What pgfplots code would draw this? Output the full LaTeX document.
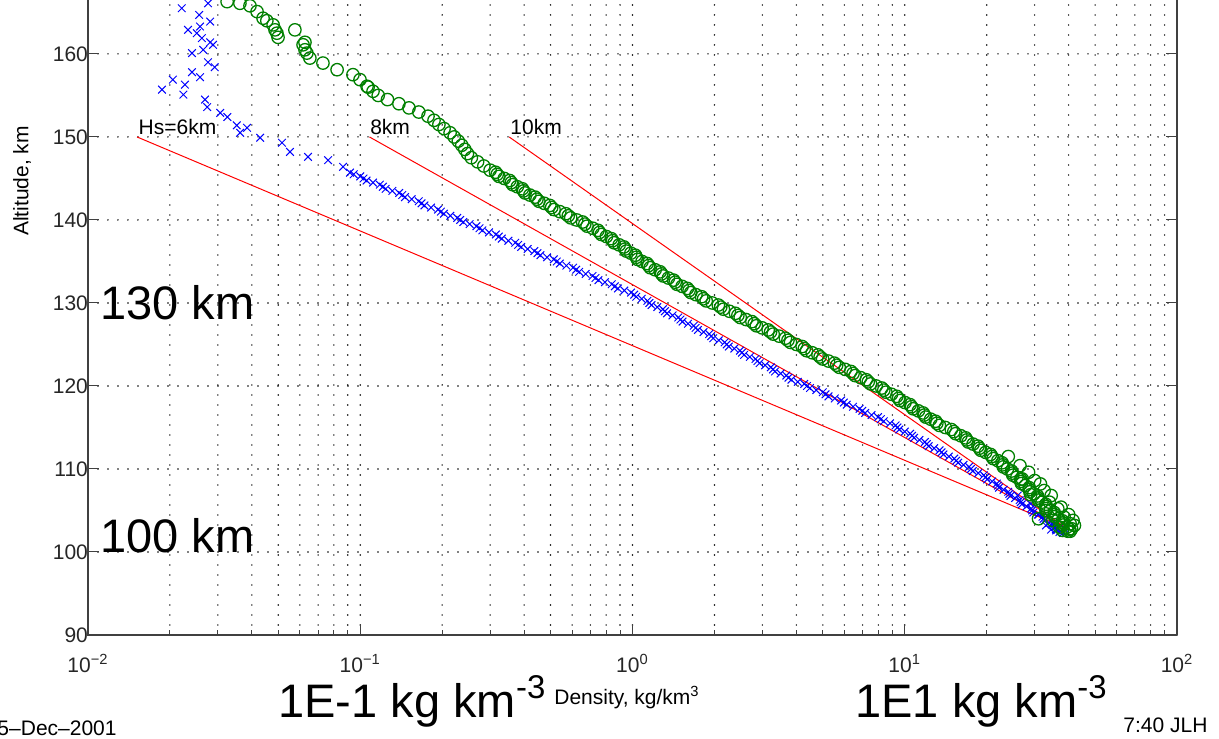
\documentclass[border=0pt]{standalone}
\usepackage{fontspec}
\setmainfont{Liberation Sans}
\usepackage{pgfplots}
\pgfplotsset{compat=1.18}

\definecolor{mgreen}{rgb}{0,0.5,0}

\begin{document}
\begin{tikzpicture}
\begin{axis}[
    at={(0,0)}, anchor=south west,
    scale only axis, width=544.5pt, height=317.5pt,
    xmode=log, xmin=0.01, xmax=100, ymin=90, ymax=166.5,
    axis x line*=bottom, axis y line*=box,
    axis line style={-, black!75, line width=0.6pt},
    xtick={0.01,0.1,1,10,100},
    xticklabels={10\textsuperscript{−2},10\textsuperscript{−1},10\textsuperscript{0},10\textsuperscript{1},10\textsuperscript{2}},
    minor xtick={0.02,0.03,0.04,0.05,0.06,0.07,0.08,0.09,0.2,0.3,0.4,0.5,0.6,0.7,0.8,0.9,2,3,4,5,6,7,8,9,20,30,40,50,60,70,80,90},
    ytick={90,100,...,160},
    ytick pos=both,
    tick align=inside,
    major tick length=5.5pt, minor tick length=2.5pt,
    tick style={black!75, line width=0.5pt},
    /pgf/number format/assume math mode=true,
    tick label style={font=\fontsize{10.5}{12}\selectfont, black!85},
    xticklabel style={yshift=-6pt},
    yticklabel style={xshift=3.5pt},
    xmajorgrids, xminorgrids, ymajorgrids,
    grid style={black, line width=0.8pt, line cap=round, dash pattern=on 0pt off 5pt},
    minor grid style={black, line width=0.8pt, line cap=round, dash pattern=on 0pt off 5pt},
    clip=false,
]
% blue: lower profile
\addplot[only marks, mark=x, mark size=2.7pt, blue, mark options={line width=0.5pt}] coordinates {
(0.0221,165.5)(0.0276,166.1)(0.0256,164.7)(0.0281,163.9)(0.0258,163.3)(0.0233,162.9)(0.0251,162.5)(0.0262,161.9)(0.0281,161.4)(0.0288,161.1)(0.0265,160.5)(0.0241,160.1)(0.0276,159.0)(0.0292,158.4)(0.0241,157.8)(0.0258,157.2)(0.0205,156.9)(0.0187,155.7)(0.0227,156.3)(0.0224,155.1)(0.0269,154.5)(0.0274,153.6)(0.0306,152.9)(0.0325,152.4)(0.0352,151.4)(0.0384,151.1)(0.0362,150.5)(0.0429,149.9)(0.0516,149.3)(0.0552,148.2)(0.0643,147.6)(0.0762,147.2)(0.0865,146.4)(0.0917,145.7)
(0.0946,145.5)(0.1028,145.0)(0.1114,144.5)(0.1211,144.0)(0.1312,143.5)(0.1426,143.0)(0.1545,142.5)(0.1679,142.0)(0.1820,141.5)(0.1977,141.0)
(0.2143,140.5)(0.2328,140.0)(0.2523,139.5)(0.2742,139.0)(0.2972,138.5)(0.3228,138.0)(0.3499,137.5)(0.3802,137.0)(0.4121,136.5)(0.4477,136.0)
(0.4853,135.5)(0.5272,135.0)(0.5715,134.5)(0.6209,134.0)(0.6730,133.5)(0.7311,133.0)(0.7925,132.5)(0.8610,132.0)(0.9333,131.5)(1.014,131.0)
(1.081,130.5)(1.153,130.0)(1.233,129.5)(1.315,129.0)(1.403,128.5)(1.500,128.0)(1.600,127.5)(1.706,127.0)(1.824,126.5)(1.945,126.0)
(2.075,125.5)(2.218,125.0)(2.366,124.5)(2.523,124.0)(2.698,123.5)(2.877,123.0)(3.069,122.5)(3.281,122.0)(3.499,121.5)(3.741,121.0)
(4.046,120.5)(4.375,120.0)(4.732,119.5)(5.117,119.0)(5.534,118.5)(5.970,118.0)(6.457,117.5)(6.982,117.0)(7.551,116.5)(8.166,116.0)
(8.831,115.5)(9.397,115.0)(10.00,114.5)(10.64,114.0)(11.32,113.5)(12.05,113.0)(12.82,112.5)(13.65,112.0)(14.52,111.5)(15.45,111.0)
(16.44,110.5)(17.50,110.0)(18.62,109.5)(19.82,109.0)(20.94,108.5)(21.98,108.0)(23.07,107.5)(24.21,107.0)(25.41,106.5)(26.67,106.0)
(27.99,105.5)(29.38,105.0)(30.83,104.5)(32.36,104.0)(33.88,103.5)(35.56,103.0)(37.33,102.5)(38.1,102.3)
(0.100,145.25)(0.1055,144.75)(0.118,144.25)(0.124,143.75)(0.139,143.25)(0.146,142.75)(0.164,142.25)(0.172,141.75)(0.193,141.25)(0.203,140.75)
(0.227,140.25)(0.239,139.75)(0.267,139.25)(0.281,138.75)(0.315,138.25)(0.331,137.75)(0.371,137.25)(0.390,136.75)(0.436,136.25)(0.459,135.75)
(0.514,135.25)(0.541,134.75)(0.605,134.25)(0.637,133.75)(0.713,133.25)(0.750,132.75)(0.839,132.25)(0.884,131.75)(0.988,131.25)(1.032,130.75)
(1.134,130.25)(1.175,129.75)(1.293,129.25)(1.339,128.75)(1.473,128.25)(1.527,127.75)(1.678,127.25)(1.739,126.75)(1.913,126.25)(1.980,125.75)
(2.179,125.25)(2.258,124.75)(2.481,124.25)(2.571,123.75)(2.829,123.25)(2.929,122.75)(3.223,122.25)(3.339,121.75)(3.674,121.25)(3.835,120.75)
(4.274,120.25)(4.485,119.75)(4.998,119.25)(5.246,118.75)(5.838,118.25)(6.120,117.75)(6.820,117.25)(7.157,116.75)(7.976,116.25)(8.371,115.75)
(9.251,115.25)(9.553,114.75)(10.47,114.25)(10.82,113.75)(11.86,113.25)(12.25,112.75)(13.43,112.25)(13.87,111.75)(15.21,111.25)(15.71,110.75)
(17.22,110.25)(17.79,109.75)(19.51,109.25)(20.08,108.75)(21.78,108.25)(22.19,107.75)(23.99,107.25)(24.44,106.75)(26.43,106.25)(26.92,105.75)
(29.12,105.25)(29.65,104.75)(32.07,104.25)(32.62,103.75)(35.24,103.25)(35.90,102.75)
(33,103.2)(36,102.6)(31,104.5)(34.5,102.7)(29,105.8)(26,106.8)(38.5,102.9)(37,102.4)(35,103.5)
};
% green: upper profile
\addplot[only marks, mark=o, mark size=3.1pt, mgreen, mark options={line width=0.65pt}] coordinates {
(0.03243,166.3)(0.03614,166.1)(0.03936,165.8)(0.04178,165.1)(0.04395,164.3)(0.04539,164.0)(0.04786,163.5)(0.04864,162.9)(0.04943,162.5)(0.0499,162.0)(0.05754,162.9)(0.06166,161.1)(0.06266,161.4)(0.06368,160.1)(0.06531,159.5)(0.06266,160.5)(0.07295,158.9)(0.08222,158.1)(0.0940,157.5)(0.0998,156.9)(0.1059,156.1)
(0.1069,156.0)(0.1114,155.5)(0.1164,155.0)(0.1259,154.5)(0.1387,154.0)(0.1510,153.5)(0.1641,153.0)(0.1774,152.5)(0.1866,152.0)(0.1945,151.5)
(0.2032,151.0)(0.2138,150.5)(0.2213,150.0)(0.2291,149.5)(0.2360,149.0)(0.2421,148.5)(0.2477,148.0)(0.2559,147.5)(0.2698,147.0)(0.2844,146.5)
(0.2999,146.0)(0.3184,145.5)(0.3381,145.0)(0.3589,144.5)(0.3776,144.0)(0.3981,143.5)(0.4198,143.0)(0.4457,142.5)(0.4742,142.0)(0.5047,141.5)
(0.5408,141.0)(0.5808,140.5)(0.6237,140.0)(0.6683,139.5)(0.7145,139.0)(0.7568,138.5)(0.8017,138.0)(0.8453,137.5)(0.8933,137.0)(0.9397,136.5)
(0.9863,136.0)(1.033,135.5)(1.084,135.0)(1.146,134.5)(1.211,134.0)(1.279,133.5)(1.355,133.0)(1.435,132.5)(1.521,132.0)(1.614,131.5)
(1.710,131.0)(1.824,130.5)(1.963,130.0)(2.109,129.5)(2.270,129.0)(2.438,128.5)(2.612,128.0)(2.799,127.5)(2.992,127.0)(3.214,126.5)
(3.459,126.0)(3.724,125.5)(4.000,125.0)(4.276,124.5)(4.571,124.0)(4.887,123.5)(5.248,123.0)(5.623,122.5)(6.039,122.0)(6.457,121.5)
(6.887,121.0)(7.345,120.5)(7.852,120.0)(8.375,119.5)(8.933,119.0)(9.484,118.5)(10.02,118.0)(10.59,117.5)(11.22,117.0)(11.80,116.5)
(12.45,116.0)(13.12,115.5)(14.09,115.0)(15.14,114.5)(16.07,114.0)(16.90,113.5)(17.82,113.0)(18.79,112.5)(19.82,112.0)(20.89,111.5)
(21.98,111.0)(22.91,110.5)(23.82,110.0)(24.83,109.5)(25.82,109.0)(26.73,108.5)(27.73,108.0)(28.71,107.5)(29.79,107.0)(30.83,106.5)
(31.92,106.0)(33.04,105.5)(34.28,105.0)(35.48,104.5)(36.73,104.0)(38.11,103.5)(39.45,103.0)(39.72,102.5)
(0.314,145.75)(0.323,145.25)(0.354,144.75)(0.363,144.25)(0.394,143.75)(0.403,143.25)(0.439,142.75)(0.453,142.25)(0.497,141.75)(0.515,141.25)
(0.569,140.75)(0.593,140.25)(0.656,139.75)(0.681,139.25)(0.747,138.75)(0.768,138.25)(0.836,137.75)(0.856,137.25)(0.930,136.75)(0.949,136.25)
(1.025,135.75)(1.043,135.25)(1.132,134.75)(1.161,134.25)(1.264,133.75)(1.297,133.25)(1.416,132.75)(1.456,132.25)(1.591,131.75)(1.637,131.25)
(1.794,130.75)(1.865,130.25)(2.067,129.75)(2.157,129.25)(2.389,128.75)(2.487,128.25)(2.746,127.75)(2.852,127.25)(3.150,126.75)(3.286,126.25)
(3.645,125.75)(3.804,125.25)(4.200,124.75)(4.357,124.25)(4.800,123.75)(4.991,123.25)(5.517,122.75)(5.744,122.25)(6.342,121.75)(6.572,121.25)
(7.223,120.75)(7.485,120.25)(8.235,119.75)(8.524,119.25)(9.347,118.75)(9.606,118.25)(10.46,117.75)(10.74,117.25)(11.68,116.75)(11.94,116.25)
(12.98,115.75)(13.40,115.25)(14.83,114.75)(15.37,114.25)(16.73,113.75)(17.10,113.25)(18.58,112.75)(19.02,112.25)(20.66,111.75)(21.11,111.25)
(22.78,110.75)(23.01,110.25)(24.69,109.75)(24.94,109.25)(26.67,108.75)(26.82,108.25)(28.64,107.75)(28.81,107.25)(30.76,106.75)(30.90,106.25)
(32.97,105.75)(33.15,105.25)(35.40,104.75)(35.56,104.25)(37.98,103.75)(38.20,103.25)(40.2,102.75)
(30.0,108.6)(32.5,107.4)(34,106.0)(36.5,105.2)(38.5,104.2)(40.5,103.4)(41,102.8)(38,102.6)(35,103.8)(33,105.0)(29,106.9)(27,108.8)(31,104.0)(37,103.0)
(24,111.5)(26.5,110.4)(28.5,109.6)(31.5,108.2)(34.5,106.8)(37.5,105.4)(40,104.5)(41.5,103.8)(42,103.2)(40.5,102.5)
};
% scale-height reference lines
\addplot[red, line width=0.5pt] coordinates {(0.01514,150)(39.5,102.8)};
\addplot[red, line width=0.5pt] coordinates {(0.1081,150)(39.5,102.8)};
\addplot[red, line width=0.5pt] coordinates {(0.3523,150)(39.5,102.8)};
\node[anchor=base west, inner sep=0, font=\fontsize{10.5}{12}\selectfont] at (axis cs:0.0153,150.3) {Hs=6km};
\node[anchor=base west, inner sep=0, font=\fontsize{10.5}{12}\selectfont] at (axis cs:0.1085,150.3) {8km};
\node[anchor=base west, inner sep=0, font=\fontsize{10.5}{12}\selectfont] at (axis cs:0.355,150.3) {10km};
\end{axis}
% labels and annotations
\node[rotate=90, inner sep=0, font=\fontsize{10.5}{12}\selectfont] at (-33pt,227pt) {Altitude, km};
\node[anchor=base, inner sep=0, font=\fontsize{10.5}{12}\selectfont] at (269.5pt,-34.5pt) {Density, kg/km\textsuperscript{3}};
\node[anchor=base west, inner sep=0, font=\fontsize{23.5}{26}\selectfont] at (6pt,157.5pt) {130 km};
\node[anchor=base west, inner sep=0, font=\fontsize{23.5}{26}\selectfont] at (6pt,41.5pt) {100 km};
\node[anchor=base west, inner sep=0, font=\fontsize{23.5}{26}\selectfont] at (95pt,-41pt) {1E-1 kg km\textsuperscript{-3}};
\node[anchor=base west, inner sep=0, font=\fontsize{23.5}{26}\selectfont] at (383.5pt,-41pt) {1E1 kg km\textsuperscript{-3}};
\node[anchor=base east, inner sep=0, font=\fontsize{10.5}{12}\selectfont] at (14.5pt,-50pt) {05–Dec–2001};
\node[anchor=base west, inner sep=0, font=\fontsize{10.5}{12}\selectfont] at (517.5pt,-48.5pt) {7:40 JLH};
\pgfresetboundingbox
\path[use as bounding box] (-44pt,-51.5pt) rectangle (565.5pt,317.5pt);
\end{tikzpicture}
\end{document}
